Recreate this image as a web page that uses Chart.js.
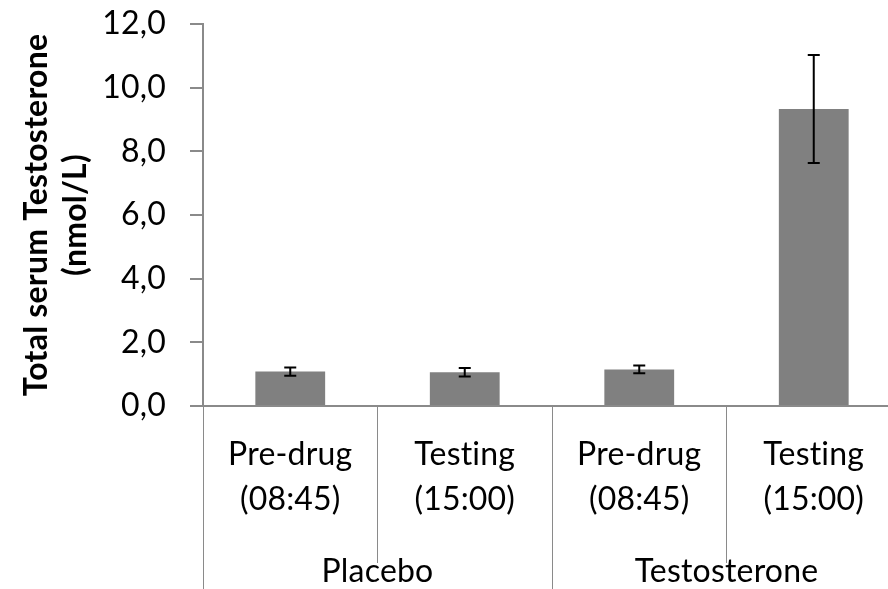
<!DOCTYPE html>
<html>
<head>
<meta charset="utf-8">
<script src="https://cdn.jsdelivr.net/npm/chart.js@4/dist/chart.umd.min.js"></script>
<style>
  html, body { margin: 0; padding: 0; background: #ffffff; overflow: hidden; }
  #wrap { width: 888px; height: 589px; overflow: hidden; }
  canvas { display: block; }
</style>
</head>
<body>
<div id="wrap"><canvas id="c" width="901" height="589"></canvas></div>
<script>
// ---- data ----
const categories = [["Pre-drug", "(08:45)"], ["Testing", "(15:00)"], ["Pre-drug", "(08:45)"], ["Testing", "(15:00)"]];
const groups = ["Placebo", "Testosterone"];
const means = [1.08, 1.06, 1.15, 9.33];
const errors = [0.13, 0.13, 0.12, 1.70];
const yTickLabels = ["0,0", "2,0", "4,0", "6,0", "8,0", "10,0", "12,0"];
const yTitle = ["Total serum Testosterone", "(nmol/L)"];

const FONT = "Lato";
const axisGrey = "#8a8a8a";

const noLigaturePlugin = {
  id: "noLigatures",
  beforeDraw(chart) {
    try { chart.ctx.letterSpacing = "0.2px"; } catch (e) {}
  }
};

const errorBarPlugin = {
  id: "errorBars",
  afterDatasetsDraw(chart) {
    const ctx = chart.ctx;
    const meta = chart.getDatasetMeta(0);
    const yScale = chart.scales.y;
    ctx.save();
    ctx.strokeStyle = "#000000";
    ctx.lineWidth = 2;
    meta.data.forEach((bar, i) => {
      const x = bar.x;
      const yTop = yScale.getPixelForValue(means[i] + errors[i]);
      const yBot = yScale.getPixelForValue(means[i] - errors[i]);
      const cap = 6;
      ctx.beginPath();
      ctx.moveTo(x, yTop); ctx.lineTo(x, yBot);
      ctx.moveTo(x - cap, yTop); ctx.lineTo(x + cap, yTop);
      ctx.moveTo(x - cap, yBot); ctx.lineTo(x + cap, yBot);
      ctx.stroke();
    });
    ctx.restore();
  }
};

new Chart(document.getElementById("c"), {
  type: "bar",
  data: {
    labels: categories,
    datasets: [{
      data: means,
      backgroundColor: "#808080",
      borderWidth: 0,
      barPercentage: 0.4,
      categoryPercentage: 1.0
    }]
  },
  options: {
    responsive: false,
    animation: false,
    devicePixelRatio: 1,
    layout: { padding: { top: 24, left: 0, right: 0, bottom: 0 } },
    plugins: { legend: { display: false }, tooltip: { enabled: false } },
    scales: {
      y: {
        min: 0, max: 12,
        afterFit(s) { s.width = 203; s.paddingTop = 0; s.paddingBottom = 0; },
        ticks: {
          stepSize: 2,
          color: "#000000",
          padding: 24,
          font: { family: FONT, size: 32 },
          callback: (v, i) => yTickLabels[i]
        },
        grid: { drawOnChartArea: false, drawTicks: true, tickLength: 13, color: axisGrey, lineWidth: 2 },
        border: { display: true, color: axisGrey, width: 2 },
        title: {
          display: true,
          text: yTitle,
          color: "#000000",
          font: { family: FONT, size: 32, weight: "bold", lineHeight: 1.22 },
          padding: { top: 17, bottom: 0 }
        }
      },
      x: {
        afterFit(s) { s.height = 130; },
        ticks: {
          color: "#000000",
          padding: -131,
          maxRotation: 0,
          autoSkip: false,
          font: { family: FONT, size: 32, lineHeight: 1.4 }
        },
        grid: { offset: true, drawOnChartArea: false, drawTicks: true, tickLength: 157, color: axisGrey, lineWidth: 1 },
        border: { display: true, color: axisGrey, width: 2 }
      },
      x2: {
        type: "category",
        position: "bottom",
        labels: groups,
        offset: true,
        afterFit(s) { s.height = 53; },
        ticks: {
          color: "#000000",
          padding: -37,
          maxRotation: 0,
          autoSkip: false,
          font: { family: FONT, size: 32, lineHeight: 1.25 }
        },
        grid: { offset: true, drawOnChartArea: false, drawTicks: true, tickLength: 53, color: axisGrey, lineWidth: 1 },
        border: { display: false }
      }
    }
  },
  plugins: [noLigaturePlugin, errorBarPlugin]
});
</script>
</body>
</html>
